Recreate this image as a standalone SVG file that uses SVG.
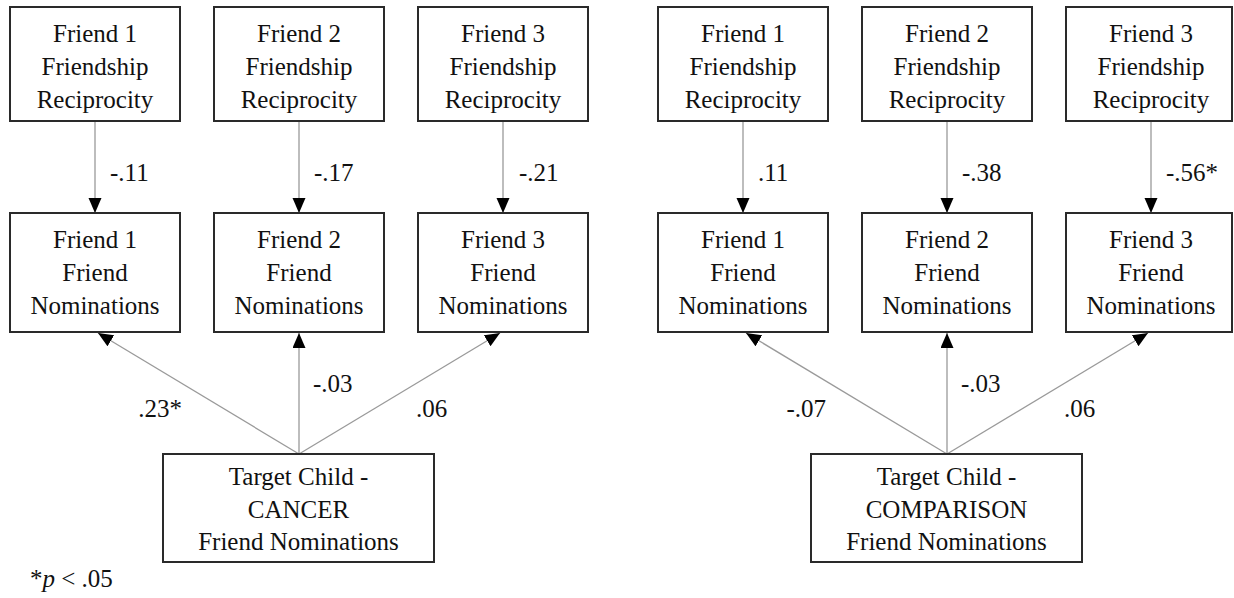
<svg xmlns="http://www.w3.org/2000/svg" width="1234" height="598" viewBox="0 0 1234 598">
<style>
  .box { fill: #ffffff; stroke: #2a2a2a; stroke-width: 2; }
  .t { font-family: "Liberation Serif", "Times New Roman", serif; font-size: 25px; fill: #111111; text-anchor: middle; }
  .lbl { font-family: "Liberation Serif", "Times New Roman", serif; font-size: 25px; fill: #111111; }
  .end { text-anchor: end; }
  .edge { stroke: #9a9a9a; stroke-width: 1.3; fill: none; marker-end: url(#arr); }
</style>
<defs>
  <marker id="arr" markerUnits="userSpaceOnUse" markerWidth="16" markerHeight="14" refX="15" refY="6.5" orient="auto">
    <path d="M0,0 L15,6.5 L0,13 Z" fill="#000000"/>
  </marker>
</defs>
<rect x="0" y="0" width="1234" height="598" fill="#ffffff"/>

<g id="connectors">
  <line class="edge" x1="95" y1="121" x2="95" y2="213"/>
  <line class="edge" x1="299" y1="121" x2="299" y2="213"/>
  <line class="edge" x1="503" y1="121" x2="503" y2="213"/>
  <line class="edge" x1="299" y1="454" x2="98" y2="333"/>
  <line class="edge" x1="299" y1="454" x2="299" y2="333"/>
  <line class="edge" x1="299" y1="454" x2="500" y2="333"/>
  <line class="edge" x1="743" y1="121" x2="743" y2="213"/>
  <line class="edge" x1="947" y1="121" x2="947" y2="213"/>
  <line class="edge" x1="1151" y1="121" x2="1151" y2="213"/>
  <line class="edge" x1="947" y1="454" x2="746" y2="333"/>
  <line class="edge" x1="947" y1="454" x2="947" y2="333"/>
  <line class="edge" x1="947" y1="454" x2="1148" y2="333"/>
  <text class="lbl" x="110" y="181">-.11</text>
  <text class="lbl" x="314" y="181">-.17</text>
  <text class="lbl" x="519" y="181">-.21</text>
  <text class="lbl end" x="182" y="417">.23*</text>
  <text class="lbl" x="313" y="392">-.03</text>
  <text class="lbl" x="416" y="417">.06</text>
  <text class="lbl" x="758" y="181">.11</text>
  <text class="lbl" x="962" y="181">-.38</text>
  <text class="lbl" x="1166" y="181">-.56*</text>
  <text class="lbl end" x="826" y="417">-.07</text>
  <text class="lbl" x="961" y="392">-.03</text>
  <text class="lbl" x="1064" y="417">.06</text>
</g>

<g id="L-recip1"><rect class="box" x="10" y="7" width="170" height="114"/>
  <text class="t" x="95" y="42">Friend 1</text><text class="t" x="95" y="75">Friendship</text><text class="t" x="95" y="108">Reciprocity</text></g>
<g id="L-recip2"><rect class="box" x="214" y="7" width="170" height="114"/>
  <text class="t" x="299" y="42">Friend 2</text><text class="t" x="299" y="75">Friendship</text><text class="t" x="299" y="108">Reciprocity</text></g>
<g id="L-recip3"><rect class="box" x="418" y="7" width="170" height="114"/>
  <text class="t" x="503" y="42">Friend 3</text><text class="t" x="503" y="75">Friendship</text><text class="t" x="503" y="108">Reciprocity</text></g>

<g id="L-nom1"><rect class="box" x="10" y="213" width="170" height="119"/>
  <text class="t" x="95" y="248">Friend 1</text><text class="t" x="95" y="281">Friend</text><text class="t" x="95" y="314">Nominations</text></g>
<g id="L-nom2"><rect class="box" x="214" y="213" width="170" height="119"/>
  <text class="t" x="299" y="248">Friend 2</text><text class="t" x="299" y="281">Friend</text><text class="t" x="299" y="314">Nominations</text></g>
<g id="L-nom3"><rect class="box" x="418" y="213" width="170" height="119"/>
  <text class="t" x="503" y="248">Friend 3</text><text class="t" x="503" y="281">Friend</text><text class="t" x="503" y="314">Nominations</text></g>

<g id="L-target"><rect class="box" x="163" y="454" width="271" height="108"/>
  <text class="t" x="298.5" y="485">Target Child -</text><text class="t" x="298.5" y="518">CANCER</text><text class="t" x="298.5" y="550">Friend Nominations</text></g>

<g id="R-recip1"><rect class="box" x="658" y="7" width="170" height="114"/>
  <text class="t" x="743" y="42">Friend 1</text><text class="t" x="743" y="75">Friendship</text><text class="t" x="743" y="108">Reciprocity</text></g>
<g id="R-recip2"><rect class="box" x="862" y="7" width="170" height="114"/>
  <text class="t" x="947" y="42">Friend 2</text><text class="t" x="947" y="75">Friendship</text><text class="t" x="947" y="108">Reciprocity</text></g>
<g id="R-recip3"><rect class="box" x="1066" y="7" width="166" height="114"/>
  <text class="t" x="1151" y="42">Friend 3</text><text class="t" x="1151" y="75">Friendship</text><text class="t" x="1151" y="108">Reciprocity</text></g>

<g id="R-nom1"><rect class="box" x="658" y="213" width="170" height="119"/>
  <text class="t" x="743" y="248">Friend 1</text><text class="t" x="743" y="281">Friend</text><text class="t" x="743" y="314">Nominations</text></g>
<g id="R-nom2"><rect class="box" x="862" y="213" width="170" height="119"/>
  <text class="t" x="947" y="248">Friend 2</text><text class="t" x="947" y="281">Friend</text><text class="t" x="947" y="314">Nominations</text></g>
<g id="R-nom3"><rect class="box" x="1066" y="213" width="166" height="119"/>
  <text class="t" x="1151" y="248">Friend 3</text><text class="t" x="1151" y="281">Friend</text><text class="t" x="1151" y="314">Nominations</text></g>

<g id="R-target"><rect class="box" x="811" y="454" width="271" height="108"/>
  <text class="t" x="946.5" y="485">Target Child -</text><text class="t" x="946.5" y="518">COMPARISON</text><text class="t" x="946.5" y="550">Friend Nominations</text></g>

<g id="footnote"><text class="lbl" x="30" y="587">*<tspan font-style="italic">p</tspan> &lt; .05</text></g>
</svg>
